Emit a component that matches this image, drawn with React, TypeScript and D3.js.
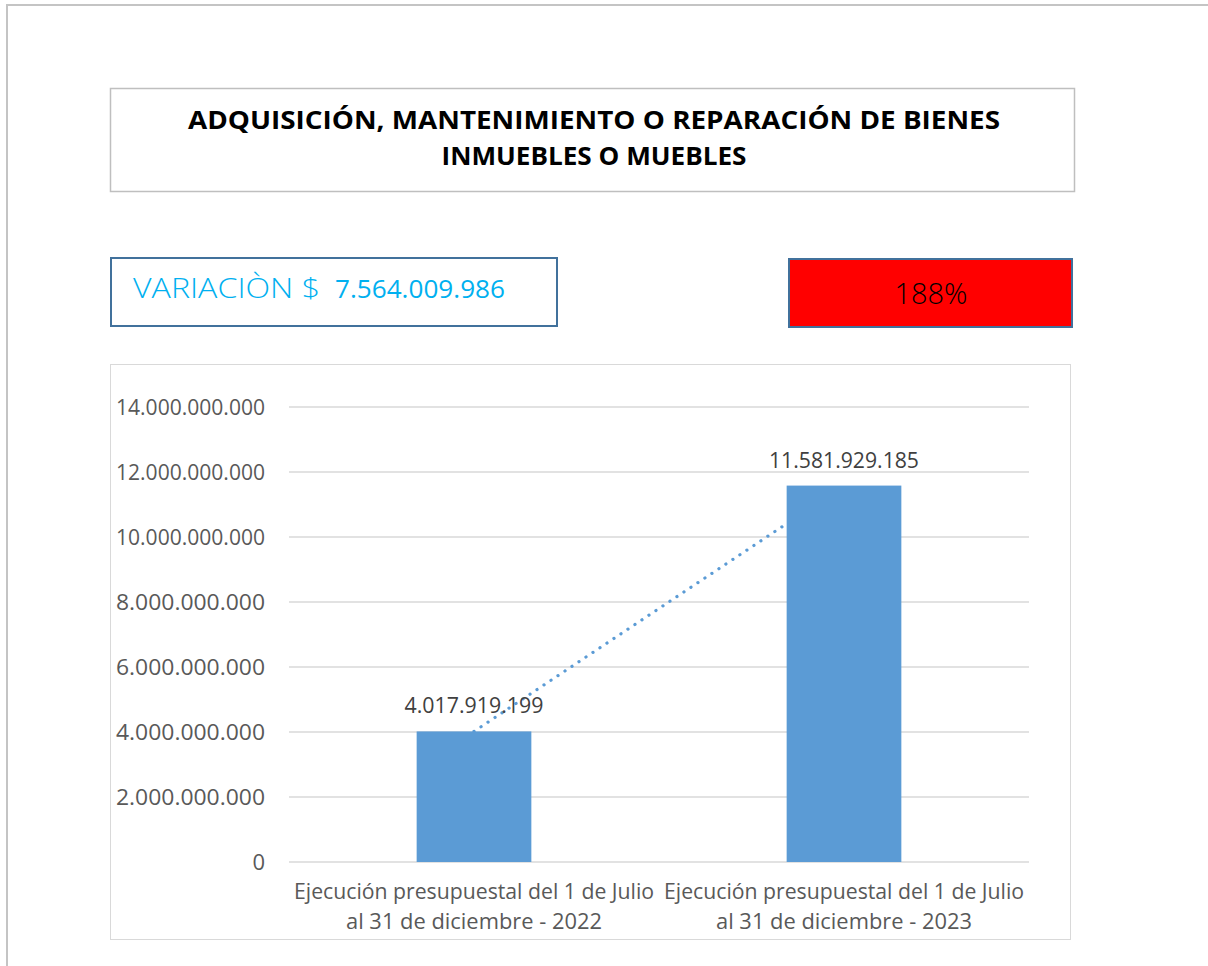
import React from "react";
import * as d3 from "d3";

const categories = [
  ["Ejecución presupuestal del 1 de Julio", "al 31 de diciembre - 2022"],
  ["Ejecución presupuestal del 1 de Julio", "al 31 de diciembre - 2023"],
];
const values = [4017919199, 11581929185];
const yTicks = [0, 2000000000, 4000000000, 6000000000, 8000000000, 10000000000, 12000000000, 14000000000];
const titleLines = ["ADQUISICIÓN, MANTENIMIENTO O REPARACIÓN DE BIENES", "INMUEBLES O MUEBLES"];
const variationLabel = "VARIACIÒN $";
const variationValue = "7.564.009.986";
const percentLabel = "188%";

const fmt = (v: number) => d3.format(",")(v).replace(/,/g, ".");

export default function App() {
  const plot = { left: 289, right: 1029, top: 407, bottom: 862 };
  const x = d3.scaleBand<number>().domain([0, 1]).range([plot.left, plot.right]).paddingInner(0.69).paddingOuter(0.345);
  const y = d3.scaleLinear().domain([0, 14000000000]).range([plot.bottom, plot.top]);
  const cx = (i: number) => (x(i) as number) + x.bandwidth() / 2;
  const line = d3.line<number>().x((_, i) => cx(i)).y((d) => y(d));

  const font = "'Open Sans', 'Liberation Sans', sans-serif";
  return (
    <svg width={1208} height={966} style={{ position: "absolute", left: 0, top: 0, background: "#fff" }}>
      {/* outer frame */}
      <line x1={7} y1={5} x2={1208} y2={5} stroke="#c4c4c4" strokeWidth={2} />
      <line x1={7} y1={4} x2={7} y2={966} stroke="#c4c4c4" strokeWidth={2} />

      {/* title box */}
      <rect x={110.5} y={88.5} width={964} height={103} fill="#fff" stroke="#bfbfbf" strokeWidth={1.5} />
      {titleLines.map((t, i) => (
        <text key={i} x={594} y={129 + i * 36} textAnchor="middle" fontFamily={font} fontWeight={700}
          fontSize={25.5} fill="#000" textLength={i === 0 ? 812 : 305} lengthAdjust="spacingAndGlyphs">{t}</text>
      ))}

      {/* variation box */}
      <rect x={111} y={258} width={446} height={68} fill="#fff" stroke="#41719c" strokeWidth={2} />
      <text x={133} y={298} fontFamily={font} fontWeight={300} fontSize={27} fill="#00b0f0"
        textLength={187} lengthAdjust="spacingAndGlyphs">{variationLabel}</text>
      <text x={335} y={298} fontFamily={font} fontWeight={400} fontSize={25} fill="#00b0f0"
        textLength={170} lengthAdjust="spacingAndGlyphs">{variationValue}</text>

      {/* percent box */}
      <rect x={789} y={259} width={283} height={68} fill="#ff0000" stroke="#41719c" strokeWidth={2} />
      <text x={931} y={304} textAnchor="middle" fontFamily={font} fontWeight={300} fontSize={29} fill="#000">{percentLabel}</text>

      {/* chart area */}
      <rect x={110.5} y={364.5} width={960} height={575} fill="#fff" stroke="#d9d9d9" strokeWidth={1} />
      {yTicks.map((t) => (
        <g key={t}>
          <line x1={plot.left} x2={plot.right} y1={y(t)} y2={y(t)} stroke="#d9d9d9" strokeWidth={1.5} />
          <text x={265} y={y(t) + 7.5} textAnchor="end" fontFamily={font} fontSize={22} fill="#595959"
            textLength={t === 0 ? undefined : 149} lengthAdjust="spacingAndGlyphs">{fmt(t)}</text>
        </g>
      ))}
      <path d={line(values) || ""} fill="none" stroke="#5b9bd5" strokeWidth={3.2} strokeLinecap="round" strokeDasharray="0.1 8.3" />
      {values.map((v, i) => (
        <g key={i}>
          <rect x={x(i)} y={y(v)} width={x.bandwidth()} height={y(0) - y(v)} fill="#5b9bd5" />
          <text x={cx(i)} y={y(v) - 18} textAnchor="middle" fontFamily={font} fontSize={22} fill="#404040"
            textLength={i === 0 ? 139 : 150} lengthAdjust="spacingAndGlyphs">{fmt(v)}</text>
        </g>
      ))}
      {categories.map((lines, i) =>
        lines.map((l, j) => (
          <text key={`${i}-${j}`} x={cx(i)} y={899 + j * 30} textAnchor="middle" fontFamily={font} fontSize={21.5}
            fill="#595959" textLength={j === 0 ? 360 : 256} lengthAdjust="spacingAndGlyphs">{l}</text>
        ))
      )}
    </svg>
  );
}
